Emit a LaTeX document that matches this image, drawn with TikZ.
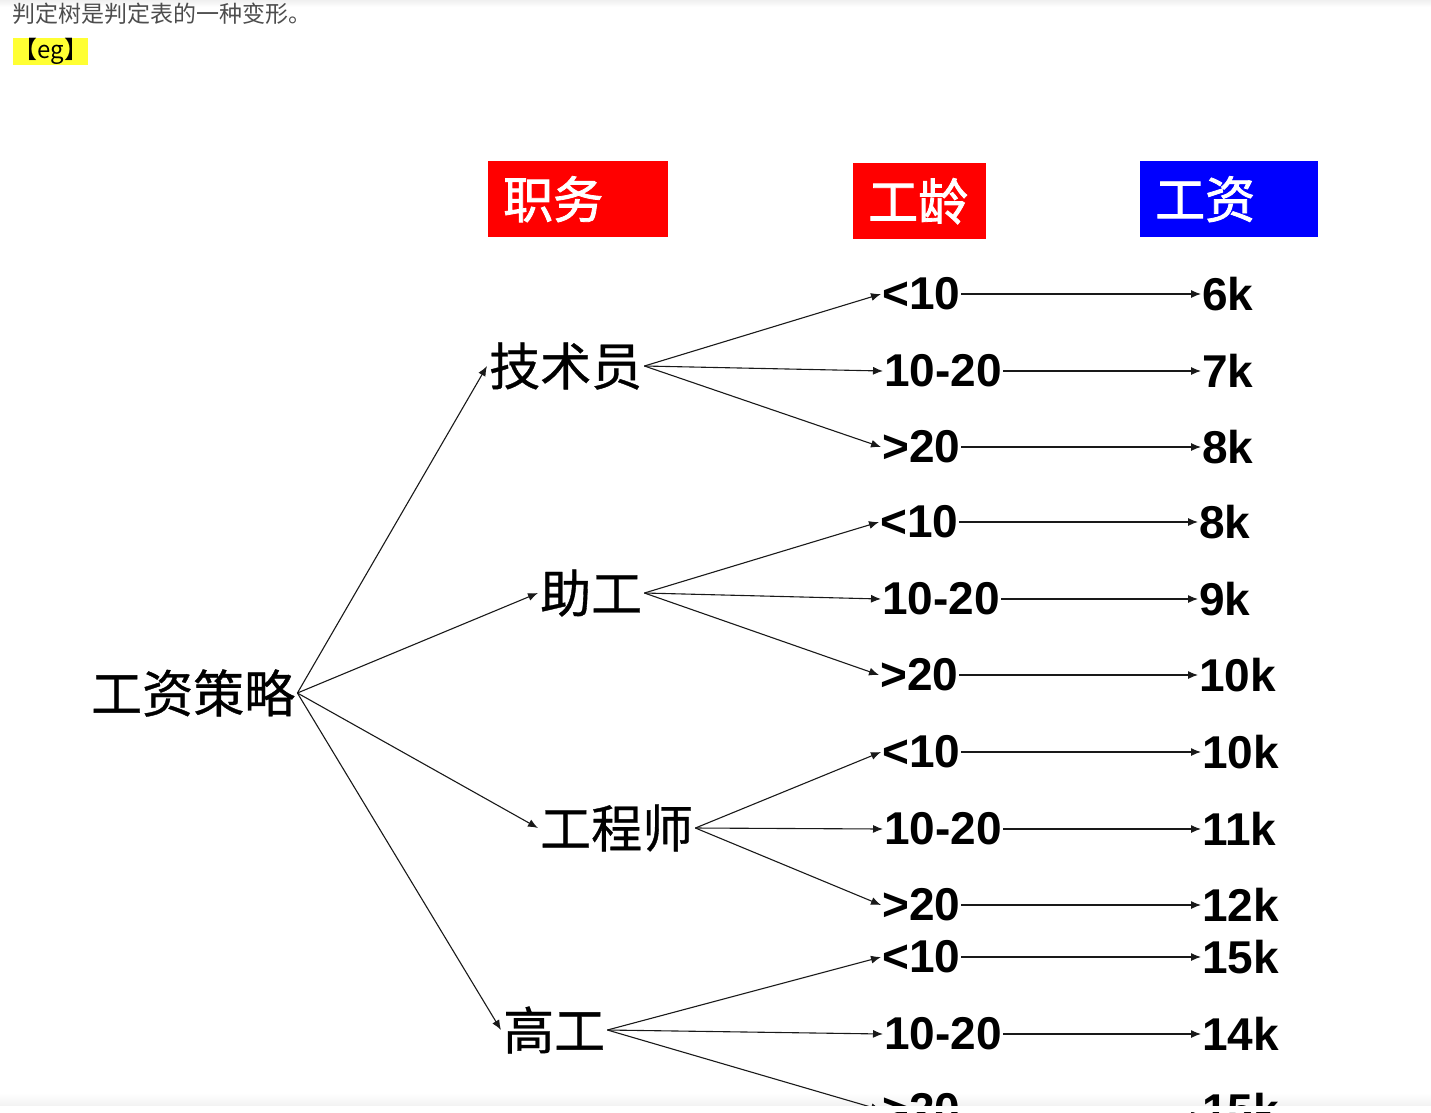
\documentclass[tikz,border=0pt]{standalone}
\usepackage{fontspec}
\setmainfont{Liberation Sans}
\newfontfamily\cjk{Noto Sans CJK SC}
\newfontfamily\cjkhv[FakeBold=1.6]{Noto Sans CJK SC}
\newfontfamily\cjkmd[FakeBold=0.7]{Noto Sans CJK SC}
\usepackage{tikz}
\usetikzlibrary{arrows.meta}
\definecolor{hdred}{HTML}{FF0000}
\definecolor{hdblue}{HTML}{0000FF}
\definecolor{eghl}{HTML}{FFFF33}
\definecolor{note}{HTML}{4D4D4D}

\begin{document}
\begin{tikzpicture}[x=1pt,y=-1pt,
  lvl/.style={anchor=west,inner xsep=2pt,inner ysep=1pt,
              font=\cjkmd\fontsize{51}{51}\selectfont},
  num/.style={anchor=west,inner sep=1pt,font=\bfseries\fontsize{46}{46}\selectfont},
  head/.style={anchor=north west,inner xsep=15pt,inner ysep=0pt,minimum height=76pt,
               align=left,text=white,font=\cjkhv\fontsize{50}{50}\selectfont},
  link/.style={draw=black!90,line width=1.1pt,-{Latex[length=10pt,width=8pt]}}]
  \useasboundingbox (0,0) rectangle (1431,1112);
  \shade[top color=black!6,bottom color=white] (0,0) rectangle (1431,7);
  \shade[top color=white,bottom color=black!5] (0,1093) rectangle (1431,1106);

  % page text above the figure
  \node[anchor=west,inner sep=0pt,text=note,font=\cjk\fontsize{23}{23}\selectfont]
    (intro) at (12,14) {判定树是判定表的一种变形。};
  \node[anchor=north west,fill=eghl,minimum width=75pt,minimum height=27pt,inner sep=0pt,
        font=\cjk\fontsize{24}{24}\selectfont] (eg) at (13,38) {【eg】};

  % column heads
  \node[head,fill=hdred,text width=150pt] (zw) at (488,161) {职务};
  \node[head,fill=hdred,text width=103pt] (gl) at (853,163) {工龄};
  \node[head,fill=hdblue,text width=148pt] (gz) at (1140,161) {工资};

  % tree
  \node[lvl] (root) at (89,693) {工资策略};
  \node[lvl] (jsy) at (487,366) {技术员};
  \node[lvl] (zg) at (538,593) {助工};
  \node[lvl] (gcs) at (538,828) {工程师};
  \node[lvl] (gg) at (501,1030) {高工};
  \foreach \t in {jsy,zg,gcs,gg}
    \draw[link] (root.east) -- (\t.west);

  \foreach \g/\x/\vx/\y/\va/\vb/\vc in {jsy/881/1201/294/6k/7k/8k,
      zg/879/1198/522/8k/9k/10k, gcs/881/1201/752/10k/11k/12k,
      gg/881/1201/957/15k/14k/15k}{
    \node[num] (\g1) at (\x,\y) {<10};
    \node[num] (\g2) at (\x+2,\y+77) {10-20};
    \node[num] (\g3) at (\x,\y+153) {>20};
    \node[num] (\g-v1) at (\vx,\y) {\va};
    \node[num] (\g-v2) at (\vx,\y+77) {\vb};
    \node[num] (\g-v3) at (\vx,\y+153) {\vc};
    \foreach \i in {1,2,3}{
      \draw[link] (\g.east) -- (\g\i.west);
      \draw[link] (\g\i.east) -- (\g-v\i.west);
    }
  }

  % screenshot edge
  \fill[white] (0,1106) rectangle (1431,1112);
\end{tikzpicture}
\end{document}
